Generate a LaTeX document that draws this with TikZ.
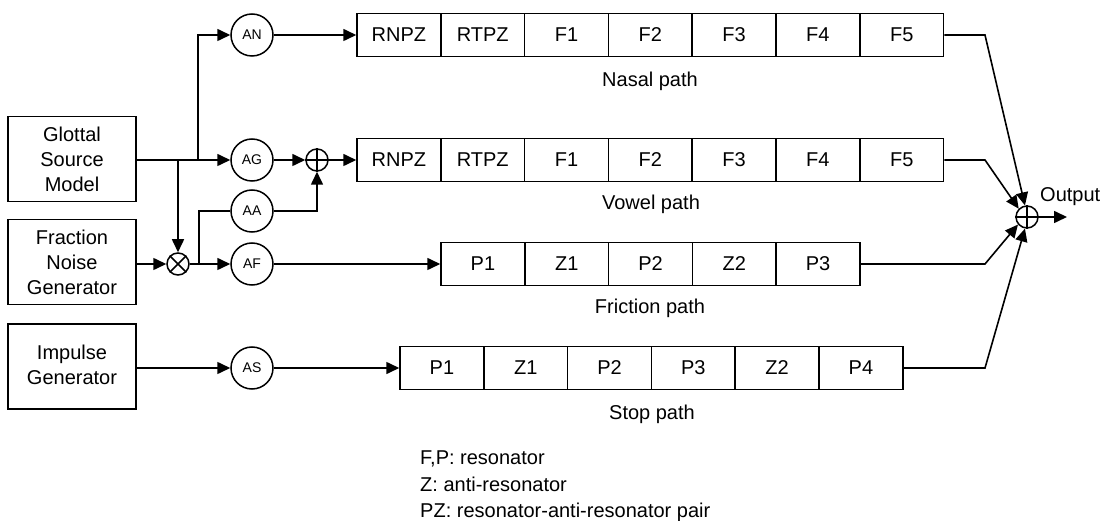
\documentclass[tikz,border=0pt]{standalone}
\usepackage{fontspec}
\setmainfont{Liberation Sans}
\usetikzlibrary{arrows.meta}
\begin{document}
\begin{tikzpicture}[x=1pt,y=-1pt,
  every node/.style={font=\fontsize{20}{25}\selectfont, inner sep=0pt},
  wire/.style={line width=1.6pt},
  arr/.style={wire,-{Triangle[length=13pt,width=12pt]}},
  srcbox/.style={draw, line width=1.5pt, minimum width=128, minimum height=85, align=center},
  cell/.style={draw, line width=1.5pt, minimum width=83.8, minimum height=43},
  gain/.style={draw, circle, line width=1.5pt, minimum size=42, font=\fontsize{14}{16}\selectfont},
  junc/.style={draw, circle, line width=1.5pt, minimum size=22},
  txt/.style={anchor=base},
]
\useasboundingbox (0,0) rectangle (1111,521);

% sources
\node[srcbox] (glot) at (72,159) {Glottal\\Source\\Model};
\node[srcbox] (frac) at (72,262) {Fraction\\Noise\\Generator};
\node[srcbox] (imp) at (72,366.5) {\raisebox{9pt}{\begin{tabular}{@{}c@{}}Impulse\\Generator\end{tabular}}};

% gains and junctions
\node[gain] (an) at (252,35) {AN};
\node[gain] (ag) at (252,160) {AG};
\node[gain] (aa) at (252,211) {AA};
\node[gain] (af) at (252,264) {AF};
\node[gain] (as) at (252,368) {AS};
\node[junc] (mult) at (178,264) {};
\node[junc] (vsum) at (317,160) {};
\node[junc] (osum) at (1027,217) {};
\draw[wire] (mult.45) -- (mult.225) (mult.135) -- (mult.315);
\draw[wire] (vsum.north) -- (vsum.south) (vsum.west) -- (vsum.east);
\draw[wire] (osum.north) -- (osum.south) (osum.west) -- (osum.east);

% filter cascades
\foreach [count=\i] \t in {RNPZ,RTPZ,F1,F2,F3,F4,F5} {
  \node[cell] (n\i) at ({357+41.9+83.8*(\i-1)},35) {\t};
  \node[cell] (v\i) at ({357+41.9+83.8*(\i-1)},160) {\t};
}
\foreach [count=\i] \t in {P1,Z1,P2,Z2,P3}
  \node[cell] (f\i) at ({441+41.9+83.8*(\i-1)},264) {\t};
\foreach [count=\i] \t in {P1,Z1,P2,P3,Z2,P4}
  \node[cell] (s\i) at ({400+41.9+83.8*(\i-1)},368) {\t};

% path labels
\node[txt] (nlab) at (650,87) {Nasal path};
\node[txt] (vlab) at (651,210) {Vowel path};
\node[txt] (flab) at (650,314) {Friction path};
\node[txt] (slab) at (652,419) {Stop path};
\node[anchor=base west] (olab) at (1040,202) {Output};

% legend
\node[anchor=base west] (leg1) at (420,464) {F,P: resonator};
\node[anchor=base west] (leg2) at (420,491) {Z: anti-resonator};
\node[anchor=base west] (leg3) at (420,517) {PZ: resonator-anti-resonator pair};

% source wiring
\coordinate (bn) at (198,160);
\coordinate (bm) at (178,160);
\coordinate (ba) at (199,264);
\draw[arr] (glot.east |- ag) -- (ag);
\draw[arr] (bn) |- (an);
\draw[arr] (bm) -- (mult);
\draw[arr] (frac.east |- mult) -- (mult);
\draw[arr] (mult) -- (af);
\draw[wire] (ba) |- (aa);
\draw[arr] (aa) -| (vsum);
\draw[arr] (ag) -- (vsum);
\draw[arr] (vsum) -- (v1);
\draw[arr] (an) -- (n1);
\draw[arr] (af) -- (f1);
\draw[arr] (imp.east |- as) -- (as);
\draw[arr] (as) -- (s1);

% output mixing
\coordinate (kx) at (985,0);
\coordinate (out) at (1067,217);
\draw[arr] (n7.east) -- (n7.east -| kx) -- (osum.100);
\draw[arr] (v7.east) -- (v7.east -| kx) -- (osum.135);
\draw[arr] (f5.east) -- (f5.east -| kx) -- (osum.220);
\draw[arr] (s6.east) -- (s6.east -| kx) -- (osum.260);
\draw[arr] (osum) -- (out);
\end{tikzpicture}
\end{document}
